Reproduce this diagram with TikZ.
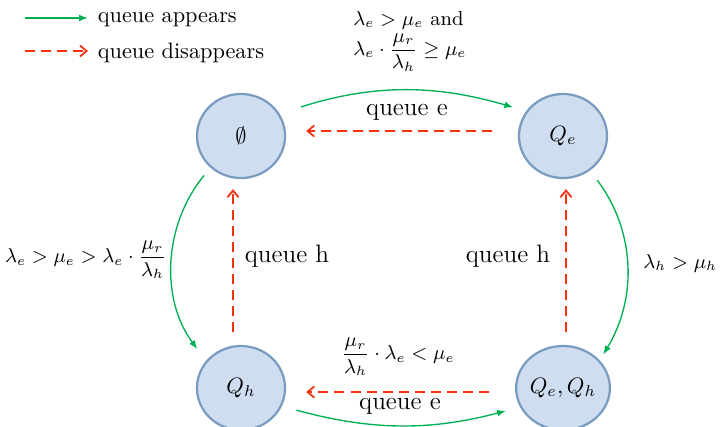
\documentclass[tikz,border=0pt]{standalone}
\usepackage{amsmath,amssymb}
\usetikzlibrary{arrows.meta,positioning,shapes,calc}

\definecolor{appeargreen}{RGB}{0,176,80}
\definecolor{vanishred}{RGB}{255,48,16}
\definecolor{statefill}{RGB}{206,222,240}
\definecolor{stateline}{RGB}{122,155,192}

\begin{document}
\begin{tikzpicture}[x=0.4486pt, y=-0.4486pt,
  state/.style={ellipse, draw=stateline, fill=statefill, line width=1pt, minimum width=39.5pt, minimum height=37.7pt, inner sep=0pt},
  appear/.style={appeargreen, line width=0.6pt, -{Latex[length=4pt,width=3pt]}},
  vanish/.style={vanishred, line width=0.8pt, dash pattern=on 4.5pt off 2.7pt, -{Straight Barb[length=3pt,width=5pt]}},
  cond/.style={inner sep=0pt, font=\small},
  qlabel/.style={inner sep=0pt, font=\fontsize{11.3}{13}\selectfont}]
\useasboundingbox (0,0) rectangle (720,426);
% legend
\coordinate (la1) at (25,18); \coordinate (la2) at (88,18);
\coordinate (lv1) at (25,51); \coordinate (lv2) at (88,51);
\draw[appear] (la1) -- (la2);
\draw[vanish] (lv1) -- (lv2);
\node[anchor=west] (lat) at (90,20) {queue appears};
\node[anchor=west] (lvt) at (90,53) {queue disappears};
% states
\node[state] (empty) at (241,136) {$\emptyset$};
\node[state] (Qe) at (563,136) {$Q_e$};
\node[state] (Qh) at (241,388) {$Q_h$};
\node[state] (Qeh) at (563,388) {$Q_e,Q_h$};
% queue e appears / disappears
\draw[appear, shorten <=10pt, shorten >=6pt] (empty.30) to[bend left=17] (Qe.146);
\draw[vanish, shorten <=11.7pt, shorten >=9pt] ($(Qe.west)+(0,-5)$) -- ($(empty.east)+(0,-5)$);
\draw[appear, shorten <=6.7pt, shorten >=6.5pt] (Qh.-24) to[bend right=15] (Qeh.204);
\draw[vanish, shorten <=11.7pt, shorten >=9pt] ($(Qeh.west)+(0,4)$) -- ($(Qh.east)+(0,4)$);
% queue h appears / disappears
\draw[appear, shorten <=4.5pt, shorten >=6.5pt] (empty.226) to[bend right=38] (Qh.142);
\draw[vanish, shorten <=5.8pt, shorten >=4.5pt] ($(Qh.north)+(-8,0)$) -- ($(empty.south)+(-8,0)$);
\draw[appear, shorten <=5.4pt, shorten >=3pt] (Qe.308) to[bend left=34] (Qeh.37);
\draw[vanish, shorten <=5.8pt, shorten >=4.5pt] ($(Qeh.north)+(3,0)$) -- ($(Qe.south)+(3,0)$);
% labels
\node[cond, anchor=north west, align=left] (c1) at (353,11) {$\lambda_e > \mu_e$ and\\[1pt] $\lambda_e\cdot\dfrac{\mu_r}{\lambda_h} \geq \mu_e$};
\node[qlabel] (q1) at (407,112) {queue e};
\node[cond, anchor=east] (c2) at (167,260) {$\lambda_e > \mu_e > \lambda_e\cdot\dfrac{\mu_r}{\lambda_h}$};
\node[qlabel] (q2) at (287,256) {queue h};
\node[qlabel] (q3) at (508,256) {queue h};
\node[cond, anchor=west] (c3) at (643,263) {$\lambda_h > \mu_h$};
\node[cond] (c4) at (398,357) {$\dfrac{\mu_r}{\lambda_h}\cdot\lambda_e < \mu_e$};
\node[qlabel] (q4) at (400,406) {queue e};
\end{tikzpicture}
\end{document}
